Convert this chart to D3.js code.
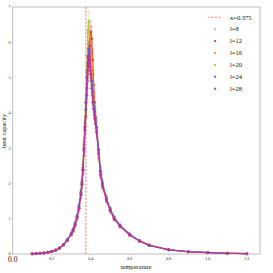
<!DOCTYPE html>
<html><head><meta charset="utf-8">
<script src="https://cdn.jsdelivr.net/npm/d3@7"></script>
<style>html,body{margin:0;padding:0;background:#fff;}svg{display:block;}</style>
</head><body>
<svg id="c" width="273" height="273"></svg>
<script>
const temps = [0.10,0.12,0.14,0.16,0.18,0.20,0.22,0.24,0.26,0.28,
0.30,0.31,0.32,0.33,0.34,0.35,0.355,0.36,0.365,0.37,
0.375,0.38,0.385,0.39,0.395,0.40,0.405,0.41,0.415,0.42,
0.425,0.43,0.44,0.45,0.46,0.48,0.50,0.52,0.55,0.60,
0.65,0.70,0.80,0.90,1.00,1.10,1.20];

const seriesNames = ["l=8","l=12","l=16","l=20","l=24","l=28"];
const seriesColors = ["#b4b4b4","#f01e1e","#ff8c1a","#9acd32","#3f6ee6","#c8289b"];

const cv8 = [0.01,0.012,0.02,0.032,0.05,0.075,0.11,0.18,0.27,0.41,
0.58,0.70,0.86,1.08,1.36,1.75,2.02,2.30,2.80,3.30,
3.90,4.40,4.90,5.20,5.30,5.10,4.80,4.50,4.20,3.95,
3.75,3.50,3.00,2.45,2.05,1.62,1.30,1.06,0.82,0.57,
0.38,0.26,0.125,0.068,0.041,0.021,0.011];
const cv12 = [0.01,0.011,0.019,0.03,0.048,0.07,0.105,0.17,0.26,0.39,
0.56,0.67,0.83,1.04,1.30,1.68,1.98,2.38,2.95,3.50,
3.90,4.50,5.20,5.60,6.00,6.30,6.10,5.50,4.80,4.30,
3.90,3.60,2.95,2.35,1.98,1.57,1.24,1.00,0.79,0.54,
0.37,0.245,0.12,0.064,0.039,0.02,0.01];
const cv16 = [0.01,0.012,0.02,0.031,0.05,0.072,0.11,0.17,0.265,0.40,
0.57,0.69,0.85,1.06,1.33,1.72,2.02,2.45,3.05,3.60,
4.05,4.70,5.40,5.90,6.20,6.00,5.60,5.00,4.55,4.20,
3.90,3.60,2.90,2.30,1.96,1.56,1.26,1.02,0.80,0.55,
0.37,0.25,0.12,0.065,0.04,0.02,0.01];
const cv20 = [0.01,0.01,0.02,0.03,0.049,0.071,0.11,0.168,0.26,0.40,
0.57,0.68,0.84,1.05,1.32,1.70,2.00,2.45,3.10,3.70,
4.30,5.20,6.30,6.60,5.90,5.30,4.90,4.50,4.20,3.95,
3.75,3.50,2.85,2.28,1.94,1.54,1.24,1.01,0.79,0.55,
0.37,0.25,0.12,0.065,0.04,0.02,0.01];
const cv24 = [0.01,0.011,0.02,0.03,0.05,0.07,0.11,0.17,0.26,0.40,
0.58,0.69,0.86,1.07,1.36,1.75,2.05,2.40,3.00,3.55,
4.10,4.70,5.40,5.80,5.50,5.20,4.90,4.60,4.30,4.05,
3.85,3.60,2.95,2.35,2.00,1.58,1.27,1.03,0.81,0.56,
0.375,0.25,0.12,0.066,0.04,0.02,0.01];
const cv28 = [0.01,0.011,0.019,0.03,0.049,0.07,0.108,0.17,0.26,0.39,
0.56,0.67,0.83,1.03,1.30,1.68,1.97,2.38,2.95,3.60,
4.30,5.00,5.60,5.30,5.90,5.10,4.70,4.30,4.10,3.85,
3.70,3.45,2.85,2.25,1.93,1.53,1.23,1.00,0.79,0.54,
0.365,0.245,0.118,0.064,0.039,0.02,0.01];

const err8 = [0,0,0.005,0.005,0.01,0.01,0.02,0.03,0.04,0.06,
0.08,0.1,0.12,0.15,0.18,0.2,0.22,0.25,0.3,0.3,
0.3,0.35,0.35,0.35,0.35,0.35,0.3,0.3,0.3,0.3,
0.3,0.3,0.3,0.3,0.3,0.25,0.2,0.15,0.1,0.06,
0.04,0.03,0.015,0.01,0.005,0.005,0.003];
const err12 = [0,0,0,0.005,0.005,0.01,0.01,0.02,0.03,0.04,
0.05,0.06,0.07,0.08,0.1,0.12,0.14,0.16,0.2,0.22,
0.25,0.25,0.3,0.3,0.3,0.3,0.35,0.3,0.3,0.25,
0.25,0.2,0.2,0.15,0.12,0.1,0.08,0.06,0.05,0.03,
0.02,0.015,0.01,0.005,0.003,0.002,0.002];
const err16 = [0,0,0,0.004,0.005,0.008,0.01,0.015,0.02,0.03,
0.04,0.05,0.06,0.07,0.08,0.1,0.12,0.14,0.16,0.18,
0.2,0.22,0.25,0.25,0.25,0.25,0.25,0.22,0.2,0.2,
0.18,0.16,0.15,0.12,0.1,0.08,0.06,0.05,0.04,0.03,
0.02,0.01,0.008,0.005,0.003,0.002,0.002];
const err20 = [0,0,0,0.004,0.005,0.008,0.01,0.015,0.02,0.03,
0.04,0.05,0.06,0.07,0.08,0.1,0.12,0.14,0.16,0.18,
0.2,0.22,0.25,0.28,0.25,0.22,0.2,0.2,0.18,0.18,
0.16,0.15,0.14,0.12,0.1,0.08,0.06,0.05,0.04,0.03,
0.02,0.01,0.008,0.005,0.003,0.002,0.002];
const err24 = [0,0,0,0.004,0.005,0.008,0.01,0.015,0.02,0.03,
0.04,0.05,0.06,0.07,0.08,0.1,0.12,0.14,0.16,0.18,
0.2,0.2,0.22,0.22,0.2,0.2,0.2,0.18,0.18,0.16,
0.16,0.15,0.14,0.12,0.1,0.08,0.06,0.05,0.04,0.03,
0.02,0.01,0.008,0.005,0.003,0.002,0.002];
const err28 = [0,0,0,0.004,0.005,0.008,0.01,0.015,0.02,0.03,
0.04,0.05,0.06,0.07,0.08,0.1,0.12,0.14,0.16,0.18,
0.2,0.2,0.22,0.22,0.2,0.2,0.2,0.18,0.18,0.16,
0.16,0.15,0.14,0.12,0.1,0.08,0.06,0.05,0.04,0.03,
0.02,0.01,0.008,0.005,0.003,0.002,0.002];

const seriesValues = [cv8,cv12,cv16,cv20,cv24,cv28];
const seriesErrors = [err8,err12,err16,err20,err24,err28];

const xTicks = [0.0,0.2,0.4,0.6,0.8,1.0,1.2];
const yTicks = [0,1,2,3,4,5,6,7];
const critT = 0.375;

const svg = d3.select("#c");
const L = 12.7, R = 260, T = 7, B = 254;
const x = d3.scaleLinear().domain([0, 1.268]).range([L, R]);
const y = d3.scaleLinear().domain([0, 7]).range([B, T]);
const font = "'Liberation Serif','DejaVu Serif',serif";

svg.append("rect").attr("x", L).attr("y", T).attr("width", R - L).attr("height", B - T)
  .attr("fill", "none").attr("stroke", "#b8b8b8").attr("stroke-width", 0.9);

svg.append("line").attr("x1", x(critT)).attr("x2", x(critT)).attr("y1", y(7)).attr("y2", y(0))
  .attr("stroke", "#ff6e6e").attr("stroke-opacity", 0.75).attr("stroke-width", 1.3)
  .attr("stroke-dasharray", "2.2,1.4");

seriesValues.forEach((vals, si) => {
  const col = seriesColors[si];
  const errs = seriesErrors[si];
  const pts = temps.map((t, i) => ({t, v: vals[i], e: errs[i]}));
  const g = svg.append("g");
  pts.forEach(p => {
    if (p.e <= 0) return;
    const cx = x(p.t), y1 = y(p.v + p.e), y2 = y(Math.max(0, p.v - p.e));
    g.append("line").attr("x1", cx).attr("x2", cx).attr("y1", y1).attr("y2", y2)
      .attr("stroke", col).attr("stroke-opacity", 0.55).attr("stroke-width", 0.6);
    [y1, y2].forEach(yy => g.append("line").attr("x1", cx - 1.2).attr("x2", cx + 1.2)
      .attr("y1", yy).attr("y2", yy).attr("stroke", col).attr("stroke-opacity", 0.55).attr("stroke-width", 0.6));
  });
  g.append("path").datum(pts)
    .attr("d", d3.line().x(d => x(d.t)).y(d => y(d.v)))
    .attr("fill", "none").attr("stroke", col).attr("stroke-width", 1.1).attr("stroke-opacity", 0.9);
  g.selectAll("circle").data(pts).join("circle")
    .attr("cx", d => x(d.t)).attr("cy", d => y(d.v)).attr("r", 1.5)
    .attr("fill", col).attr("fill-opacity", 0.7);
});

xTicks.forEach(t => {
  svg.append("line").attr("x1", x(t)).attr("x2", x(t)).attr("y1", B).attr("y2", B + 1.5)
    .attr("stroke", "#b8b8b8").attr("stroke-width", 0.6);
  const big = t === 0;
  svg.append("text").attr("x", x(t)).attr("y", big ? 262 : 259.5)
    .attr("text-anchor", "middle").attr("font-family", font)
    .attr("font-size", big ? 7.5 : 4).attr("fill", "#111")
    .text(t.toFixed(1));
});
yTicks.forEach(t => {
  svg.append("line").attr("x1", L - 1.5).attr("x2", L).attr("y1", y(t)).attr("y2", y(t))
    .attr("stroke", "#b8b8b8").attr("stroke-width", 0.6);
  svg.append("text").attr("x", L - 2.2).attr("y", y(t) + 1.4)
    .attr("text-anchor", "end").attr("font-family", font)
    .attr("font-size", 4).attr("fill", "#222").text(String(t));
});

svg.append("text").attr("x", 136).attr("y", 269).attr("text-anchor", "middle")
  .attr("font-family", font).attr("font-size", 6.5).attr("fill", "#111").text("temperature");
svg.append("text").attr("transform", "translate(5.5,131) rotate(-90)").attr("text-anchor", "middle")
  .attr("font-family", font).attr("font-size", 6.5).attr("fill", "#111").text("heat capacity");

const legY0 = 17.3, legDy = 11.9;
svg.append("line").attr("x1", 207.7).attr("x2", 221).attr("y1", legY0).attr("y2", legY0)
  .attr("stroke", "#ff6e6e").attr("stroke-opacity", 0.75).attr("stroke-width", 1.1)
  .attr("stroke-dasharray", "2.2,1.4");
svg.append("text").attr("x", 230).attr("y", legY0 + 2.2).attr("font-family", font)
  .attr("font-size", 6.5).attr("fill", "#111").text("x=" + critT);
seriesNames.forEach((n, i) => {
  const yy = legY0 + legDy * (i + 1);
  svg.append("circle").attr("cx", 215).attr("cy", yy).attr("r", 1.2)
    .attr("fill", seriesColors[i]).attr("fill-opacity", 0.85);
  svg.append("text").attr("x", 230).attr("y", yy + 2.2).attr("font-family", font)
    .attr("font-size", 6.5).attr("fill", "#111").text(n);
});
</script>
</body></html>
